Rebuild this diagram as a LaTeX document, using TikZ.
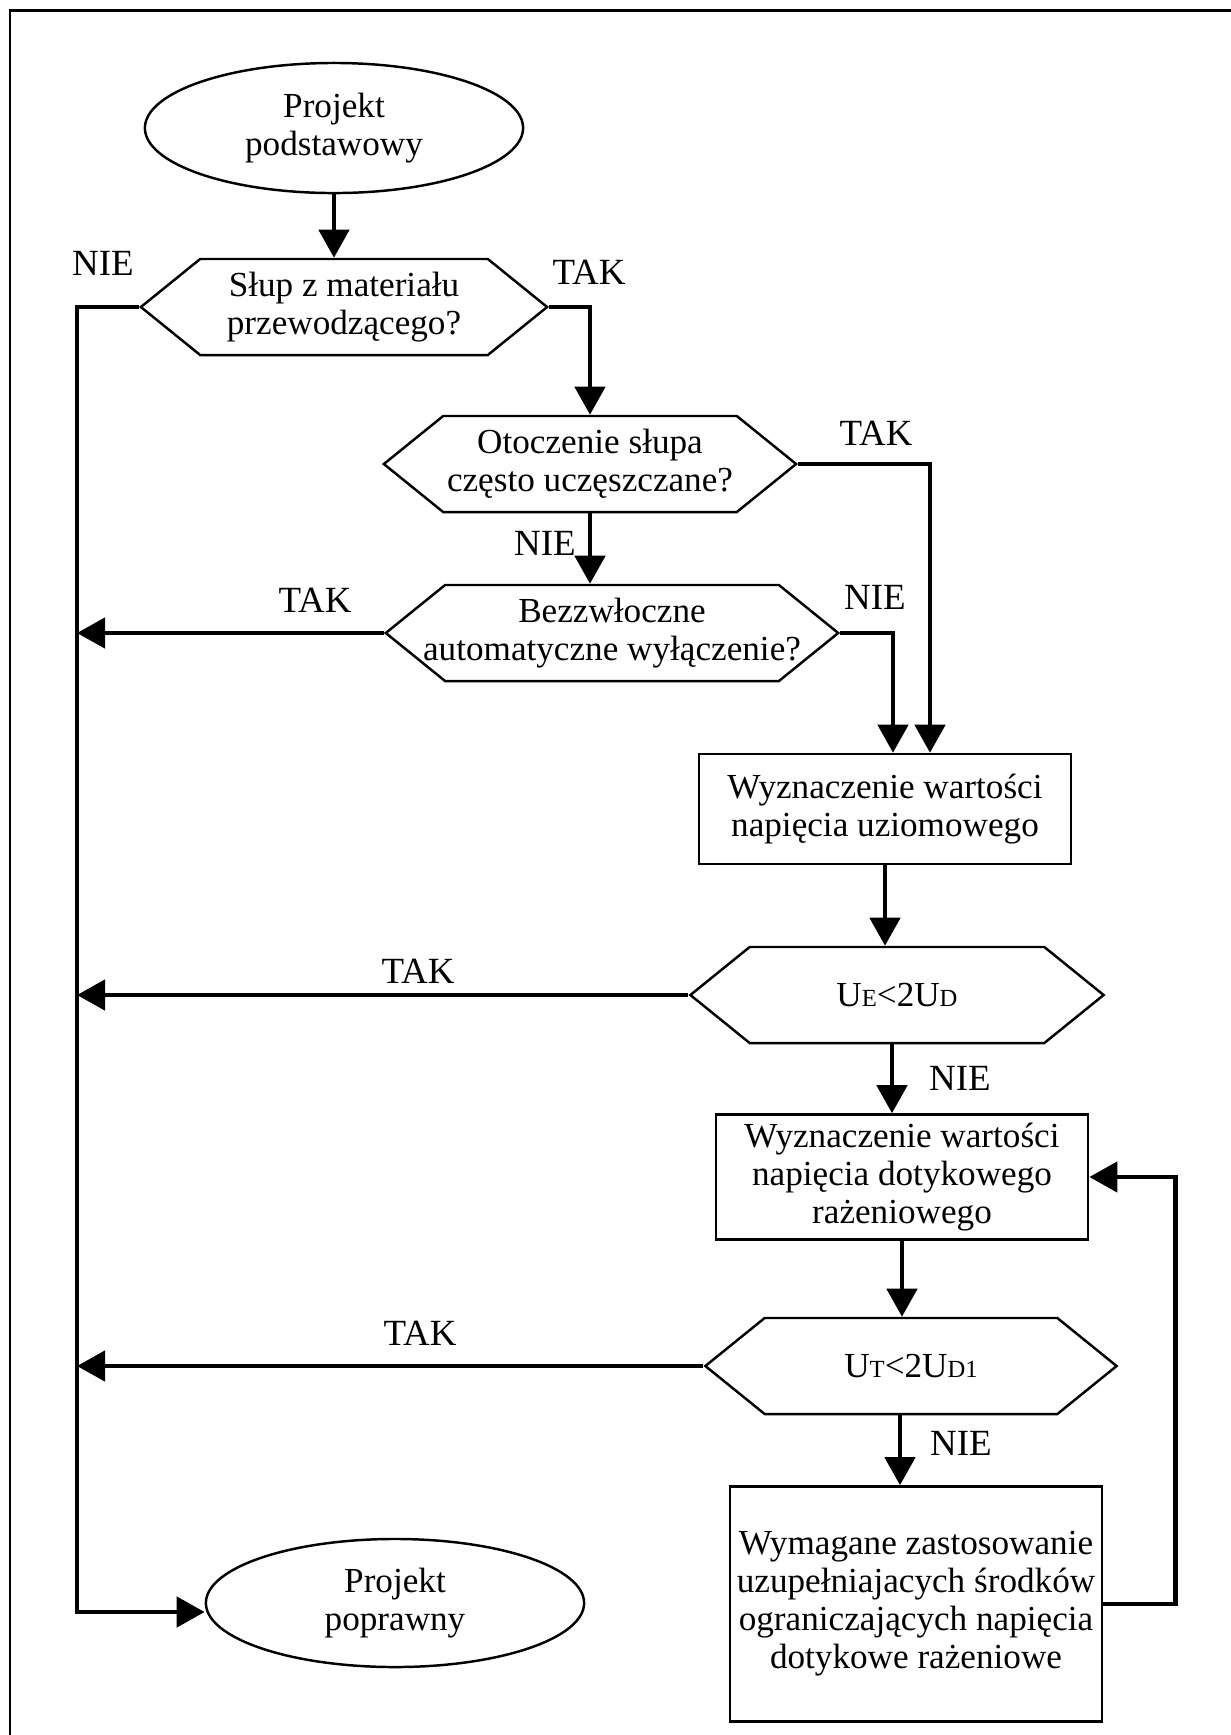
\documentclass[tikz,border=0pt]{standalone}
\usepackage{fontspec}
\setmainfont{Liberation Serif}
\usetikzlibrary{arrows.meta,calc,shapes.geometric,shapes.symbols}

\begin{document}
\begin{tikzpicture}[
  x=0.01cm, y=-0.01cm,
  >={Triangle[length=2.8mm, width=3mm]},
  every node/.style={font={\fontsize{10}{10.8}\selectfont}},
  termnode/.style={ellipse, draw=black, line width=0.7pt, minimum width=3.78cm, minimum height=1.3cm, align=center, inner sep=0pt},
  decnode/.style={signal, signal to=east and west, signal pointer angle=78, draw=black, line width=0.7pt, minimum height=0.96cm, align=center, inner sep=1pt},
  procnode/.style={rectangle, draw=black, line width=0.7pt, minimum width=3.72cm, align=center, inner sep=2pt},
  flow/.style={->, line width=1.3pt},
  answer/.style={font={\fontsize{10.5}{12}\selectfont}, inner sep=0pt}
]
\useasboundingbox (0,0) rectangle (1231,1735);
\draw[line width=0.85pt] (10,1735) -- (10,10) -- (1231,10);
\node[termnode] (start) at (334,128) {Projekt\\podstawowy};
\node[decnode, minimum width=4.06cm] (q1) at (344,307) {Słup z materiału\\przewodzącego?};
\node[decnode, minimum width=4.12cm] (q2) at (590,464) {Otoczenie słupa\\często uczęszczane?};
\node[decnode, inner xsep=-0.22cm] (q3) at (612,633) {Bezzwłoczne\\automatyczne wyłączenie?};
\node[procnode, minimum height=1.1cm] (calcE) at (885,809) {Wyznaczenie wartości\\napięcia uziomowego};
\node[decnode, minimum width=4.13cm] (q4) at (897,995) {U{\fontsize{7}{8}\selectfont E}<2U{\fontsize{7}{8}\selectfont D}};
\node[procnode, minimum height=1.25cm] (calcT) at (902,1177) {Wyznaczenie wartości\\napięcia dotykowego\\rażeniowego};
\node[decnode, minimum width=4.11cm] (q5) at (911,1366) {U{\fontsize{7}{8}\selectfont T}<2U{\fontsize{7}{8}\selectfont D1}};
\node[procnode, minimum height=2.35cm] (extra) at (916,1604) {Wymagane zastosowanie\\uzupełniajacych środków\\ograniczających napięcia\\dotykowe rażeniowe};
\node[termnode, minimum height=1.28cm] (stop) at (395,1603) {Projekt\\poprawny};
\node[answer] (nie1) at (103,263) {NIE};
\node[answer] (tak1) at (589,272) {TAK};
\node[answer] (tak2) at (876,433) {TAK};
\node[answer] (nie2) at (545,543) {NIE};
\node[answer] (tak3) at (315,600) {TAK};
\node[answer] (nie3) at (875,597) {NIE};
\node[answer] (tak4) at (418,971) {TAK};
\node[answer] (nie4) at (960,1078) {NIE};
\node[answer] (tak5) at (420,1333) {TAK};
\node[answer] (nie5) at (961,1443) {NIE};
\coordinate (spine) at (77,1612);
\coordinate (inA) at ($(calcE.north)+(45,0)$);
\coordinate (inB) at ($(calcE.north)+(8,0)$);
\draw[flow] (start.south) -- (start.south |- q1.north);
\draw[flow] (q1.east) -| (q2.north);
\draw[flow] (q1.west) -| (spine) -- (spine -| stop.west);
\draw[flow] (q2.south) -- (q2.south |- q3.north);
\draw[flow] (q2.east) -| (inA);
\draw[flow] (q3.east) -| (inB);
\draw[flow] (q3.west) -- (q3.west -| spine);
\draw[flow] (calcE.south) -- (calcE.south |- q4.north);
\draw[flow] (q4.west) -- (q4.west -| spine);
\draw[flow] ($(q4.south)+(-5,0)$) -- ($(q4.south |- calcT.north)+(-5,0)$);
\draw[flow] (calcT.south) -- (calcT.south |- q5.north);
\draw[flow] (q5.west) -- (q5.west -| spine);
\draw[flow] ($(q5.south)+(-11,0)$) -- ($(q5.south |- extra.north)+(-11,0)$);
\draw[flow] (extra.east) -- ++(72,0) |- (calcT.east);
\end{tikzpicture}
\end{document}
